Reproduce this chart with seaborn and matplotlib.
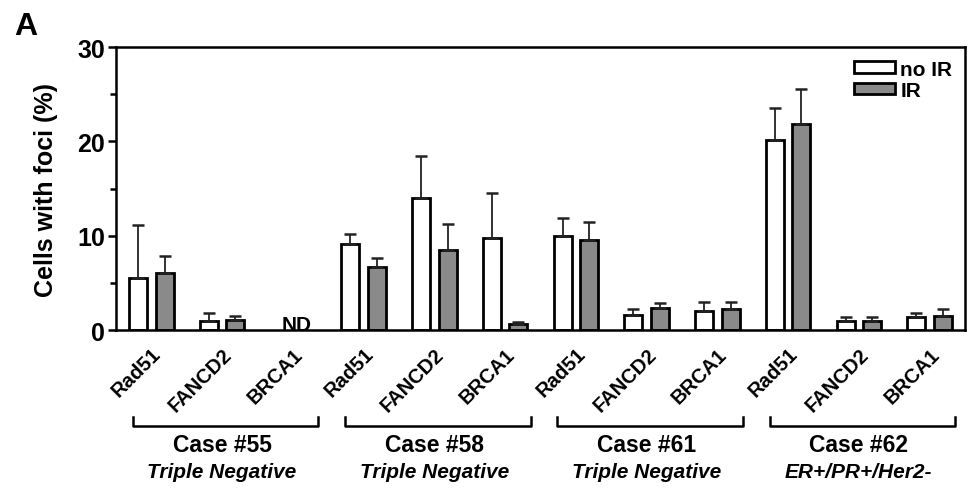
import numpy as np
import pandas as pd
import seaborn as sns
import matplotlib.pyplot as plt
from matplotlib.ticker import MultipleLocator
from matplotlib.transforms import blended_transform_factory

cases = ['Case #55', 'Case #58', 'Case #61', 'Case #62']
subtypes = ['Triple Negative', 'Triple Negative', 'Triple Negative', 'ER+/PR+/Her2-']
markers = ['Rad51', 'FANCD2', 'BRCA1']
conditions = ['no IR', 'IR']

# one value per case/marker, BRCA1 of case #55 was not determined
no_ir = [5.5, 0.92, np.nan, 9.09, 14.03, 9.72, 9.93, 1.55, 2.0, 20.18, 0.99, 1.34]
no_ir_err = [5.6, 0.85, np.nan, 1.1, 4.45, 4.8, 1.95, 0.67, 1.0, 3.4, 0.42, 0.46]
ir = [6.08, 1.03, np.nan, 6.72, 8.45, 0.64, 9.58, 2.3, 2.23, 21.8, 0.92, 1.45]
ir_err = [1.75, 0.5, np.nan, 0.95, 2.8, 0.2, 1.85, 0.56, 0.77, 3.75, 0.49, 0.78]

plt.rcParams['font.family'] = ['Liberation Sans', 'DejaVu Sans']

keys = [c + '|' + m for c in cases for m in markers]
df = pd.DataFrame({
    'key': keys * 2,
    'condition': ['no IR'] * 12 + ['IR'] * 12,
    'value': no_ir + ir,
    'err': no_ir_err + ir_err,
})

fig = plt.figure(figsize=(9.68, 4.89), dpi=100)
ax = fig.add_axes([0.1198, 0.323, 0.8771, 0.5788])

sns.barplot(
    data=df, x='key', y='value', hue='condition',
    order=keys, hue_order=conditions,
    palette={'no IR': 'white', 'IR': '#8a8a8a'},
    width=0.75, gap=0.32, edgecolor='black', linewidth=2.0,
    errorbar=None, ax=ax,
)

# upward-only error bars on top of each bar
errs = {('no IR', i): e for i, e in enumerate(no_ir_err)}
errs.update({('IR', i): e for i, e in enumerate(ir_err)})
for cont, cond in zip(ax.containers, conditions):
    for bar in cont:
        h = bar.get_height()
        if np.isnan(h):
            continue
        x = bar.get_x() + bar.get_width() / 2
        e = errs[(cond, int(round(x)))]
        ax.errorbar(x, h, yerr=[[0], [e]], fmt='none', ecolor='#222222',
                    elinewidth=1.3, capsize=4.5, capthick=1.8, zorder=1)

ax.text(2.05, 0, 'ND', ha='center', va='baseline', fontsize=15, weight='bold')

ax.set_xlim(-0.5, 11.5)
ax.set_ylim(0, 30)
ax.set_yticks([0, 10, 20, 30])
ax.yaxis.set_minor_locator(MultipleLocator(5))
ax.tick_params(axis='y', which='major', length=6, width=1.8, labelsize=18, pad=2)
ax.tick_params(axis='y', which='minor', length=4, width=1.8)
for lab in ax.get_yticklabels():
    lab.set_fontweight('bold')

ax.set_xticks(range(12))
ax.set_xticklabels(markers * 4, rotation=45, ha='right', rotation_mode='anchor',
                   fontsize=14.5, weight='bold')
ax.tick_params(axis='x', length=0, pad=10)
ax.set_xlabel('')
ax.set_ylabel('Cells with foci (%)', fontsize=18, weight='bold')
ax.yaxis.set_label_coords(-0.068, 0.5)

for sp in ax.spines.values():
    sp.set_linewidth(1.8)

sns.move_legend(ax, 'upper right', title=None, frameon=False,
                prop={'weight': 'bold', 'size': 15},
                handlelength=2.0, handleheight=0.45, handletextpad=0.25,
                labelspacing=0.12, borderaxespad=0.4, borderpad=0.2)

# case brackets under the axis
trans = blended_transform_factory(ax.transData, ax.transAxes)
for g, (case, sub) in enumerate(zip(cases, subtypes)):
    c = 3 * g + 1.05
    x0, x1 = c - 1.31, c + 1.31
    ax.plot([x0, x0, x1, x1], [-0.307, -0.339, -0.339, -0.307], transform=trans,
            color='black', lw=1.8, clip_on=False)
    ax.text(3 * g + 1, -0.403, case, transform=trans, ha='center', va='center',
            fontsize=16.5, weight='bold')
    ax.text(3 * g + 1, -0.498, sub, transform=trans, ha='center', va='center',
            fontsize=15, weight='bold', style='italic')

fig.text(0.015, 0.975, 'A', fontsize=23, weight='bold', va='top')

fig.savefig('out.png', dpi=100)
